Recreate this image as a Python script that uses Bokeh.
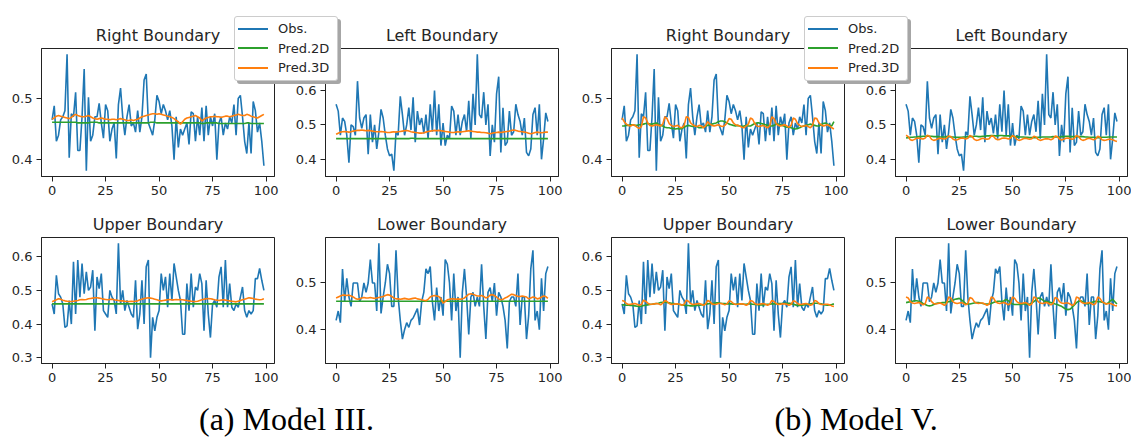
from bokeh.plotting import figure
from bokeh.models import Range1d, FixedTicker, PrintfTickFormatter, Div
from bokeh.layouts import row, column
from bokeh.embed import file_html
from bokeh.resources import INLINE
from bokeh.core.properties import value

# ---------------- data ----------------
x_idx = list(range(100))
x_ticks = [0, 25, 50, 75, 100]
series_labels = ["Obs.", "Pred.2D", "Pred.3D"]
panel_titles = ["Right Boundary", "Left Boundary", "Upper Boundary", "Lower Boundary"]
captions = ["(a) Model III.", "(b) Model V."]
yticks_right = [0.4, 0.5]
yticks_left = [0.4, 0.5, 0.6]
yticks_upper = [0.3, 0.4, 0.5, 0.6]
yticks_lower = [0.4, 0.5]

obs_right = [0.465, 0.488, 0.43, 0.44, 0.465, 0.47, 0.48, 0.572, 0.403, 0.475,
             0.47, 0.51, 0.415, 0.415, 0.47, 0.548, 0.382, 0.502, 0.43, 0.44,
             0.47, 0.47, 0.492, 0.46, 0.435, 0.49, 0.48, 0.43, 0.45, 0.46,
             0.402, 0.49, 0.517, 0.47, 0.44, 0.47, 0.49, 0.455, 0.46, 0.445,
             0.48, 0.445, 0.47, 0.53, 0.54, 0.46, 0.45, 0.44, 0.465, 0.505,
             0.495, 0.475, 0.49, 0.48, 0.465, 0.48, 0.455, 0.40, 0.47, 0.42,
             0.45, 0.44, 0.45, 0.46, 0.425, 0.478, 0.475, 0.43, 0.47, 0.44,
             0.485, 0.43, 0.488, 0.44, 0.47, 0.455, 0.475, 0.40, 0.46, 0.47,
             0.44, 0.46, 0.45, 0.47, 0.46, 0.49, 0.44, 0.50, 0.505, 0.47,
             0.43, 0.41, 0.46, 0.41, 0.495, 0.48, 0.445, 0.46, 0.43, 0.39]

obs_left = [0.56, 0.54, 0.47, 0.52, 0.51, 0.47, 0.39, 0.50, 0.495, 0.47,
            0.627, 0.52, 0.49, 0.52, 0.53, 0.415, 0.53, 0.45, 0.50, 0.43,
            0.48, 0.545, 0.52, 0.47, 0.43, 0.41, 0.415, 0.367, 0.48, 0.47,
            0.583, 0.53, 0.47, 0.50, 0.55, 0.485, 0.58, 0.45, 0.54, 0.50,
            0.52, 0.475, 0.53, 0.46, 0.56, 0.48, 0.60, 0.47, 0.56, 0.44,
            0.505, 0.44, 0.47, 0.46, 0.555, 0.54, 0.47, 0.53, 0.47, 0.51,
            0.53, 0.48, 0.57, 0.46, 0.59, 0.50, 0.705, 0.53, 0.52, 0.595,
            0.50, 0.56, 0.41, 0.50, 0.45, 0.59, 0.64, 0.42, 0.55, 0.44,
            0.45, 0.54, 0.47, 0.48, 0.56, 0.53, 0.51, 0.47, 0.52, 0.42,
            0.41, 0.43, 0.53, 0.55, 0.47, 0.56, 0.40, 0.46, 0.535, 0.51]

obs_upper = [0.46, 0.43, 0.545, 0.49, 0.48, 0.46, 0.39, 0.395, 0.47, 0.40,
             0.585, 0.43, 0.59, 0.48, 0.58, 0.49, 0.555, 0.50, 0.51, 0.56,
             0.38, 0.54, 0.505, 0.55, 0.44, 0.43, 0.42, 0.50, 0.48, 0.47,
             0.43, 0.64, 0.46, 0.50, 0.44, 0.47, 0.45, 0.43, 0.42, 0.53,
             0.385, 0.43, 0.53, 0.40, 0.57, 0.59, 0.30, 0.42, 0.38, 0.42,
             0.44, 0.55, 0.50, 0.54, 0.45, 0.55, 0.47, 0.58, 0.54, 0.50,
             0.47, 0.37, 0.37, 0.52, 0.44, 0.55, 0.45, 0.51, 0.50, 0.55,
             0.52, 0.38, 0.53, 0.43, 0.36, 0.46, 0.47, 0.45, 0.54, 0.57,
             0.45, 0.59, 0.45, 0.52, 0.45, 0.44, 0.46, 0.45, 0.48, 0.51,
             0.44, 0.42, 0.44, 0.43, 0.44, 0.535, 0.535, 0.565, 0.53, 0.50]

obs_lower = [0.42, 0.44, 0.415, 0.53, 0.46, 0.51, 0.47, 0.45, 0.50, 0.50,
             0.50, 0.46, 0.47, 0.50, 0.48, 0.50, 0.55, 0.50, 0.50, 0.44,
             0.585, 0.435, 0.47, 0.50, 0.54, 0.52, 0.45, 0.45, 0.57, 0.47,
             0.42, 0.38, 0.40, 0.415, 0.405, 0.42, 0.425, 0.435, 0.445, 0.41,
             0.46, 0.48, 0.53, 0.52, 0.535, 0.46, 0.42, 0.49, 0.44, 0.47,
             0.43, 0.55, 0.54, 0.50, 0.42, 0.52, 0.44, 0.47, 0.34, 0.48,
             0.53, 0.47, 0.39, 0.47, 0.48, 0.45, 0.47, 0.45, 0.54, 0.45,
             0.38, 0.48, 0.49, 0.46, 0.50, 0.43, 0.48, 0.47, 0.45, 0.42,
             0.36, 0.46, 0.47, 0.47, 0.45, 0.52, 0.41, 0.47, 0.47, 0.38,
             0.43, 0.53, 0.57, 0.42, 0.44, 0.40, 0.51, 0.44, 0.52, 0.535]

# predictions (thousandths)
right_2d_m3 = [461, 461, 461, 461, 461, 461, 461, 461, 461, 461,
               461, 461, 460, 460, 460, 460, 460, 460, 461, 461,
               461, 461, 460, 460, 460, 460, 460, 460, 460, 460,
               460, 460, 460, 460, 460, 460, 460, 460, 460, 460,
               460, 460, 460, 460, 460, 460, 461, 461, 461, 460,
               460, 460, 460, 460, 460, 460, 460, 460, 460, 460,
               460, 460, 460, 460, 460, 460, 460, 460, 460, 460,
               459, 459, 460, 460, 460, 460, 460, 460, 459, 459,
               459, 459, 459, 459, 459, 459, 459, 459, 459, 459,
               459, 460, 460, 459, 459, 459, 459, 459, 459, 459]
right_3d_m3 = [466, 468, 471, 472, 471, 470, 469, 468, 467, 469,
               472, 474, 472, 471, 470, 470, 471, 472, 470, 468,
               467, 466, 467, 468, 467, 466, 466, 465, 466, 466,
               465, 466, 467, 466, 465, 464, 464, 465, 464, 465,
               466, 468, 470, 471, 472, 473, 474, 475, 475, 474,
               475, 474, 473, 472, 471, 470, 469, 467, 464, 462,
               458, 462, 466, 468, 469, 470, 471, 472, 470, 468,
               463, 466, 468, 469, 470, 470, 471, 470, 470, 469,
               470, 471, 471, 470, 471, 472, 473, 474, 473, 472,
               472, 474, 473, 471, 470, 469, 468, 470, 472, 474]
left_2d_m3 = [460, 460, 460, 460, 460, 460, 460, 460, 460, 460,
              460, 460, 460, 460, 460, 460, 460, 460, 460, 460,
              460, 460, 460, 460, 460, 460, 460, 460, 460, 460,
              460, 460, 460, 460, 460, 461, 461, 460, 460, 460,
              460, 460, 460, 460, 460, 460, 460, 460, 460, 460,
              460, 460, 460, 460, 460, 460, 460, 460, 460, 460,
              460, 460, 460, 460, 460, 460, 460, 460, 460, 460,
              460, 460, 460, 460, 460, 460, 460, 460, 460, 460,
              460, 460, 460, 460, 460, 460, 460, 460, 460, 460,
              460, 460, 460, 460, 460, 460, 460, 460, 460, 460]
left_3d_m3 = [473, 476, 479, 480, 481, 480, 479, 480, 482, 483,
              484, 484, 485, 484, 483, 484, 483, 482, 481, 480,
              480, 481, 480, 479, 478, 478, 479, 480, 479, 480,
              481, 482, 483, 484, 482, 480, 479, 478, 477, 476,
              476, 477, 479, 481, 482, 483, 484, 483, 484, 483,
              482, 481, 480, 479, 478, 478, 479, 480, 479, 480,
              481, 482, 483, 482, 481, 480, 479, 479, 478, 478,
              477, 476, 474, 476, 477, 478, 479, 478, 479, 480,
              481, 482, 484, 485, 484, 482, 481, 480, 479, 478,
              476, 474, 476, 478, 479, 478, 477, 478, 479, 479]
upper_2d_m3 = [460, 460, 460, 460, 460, 460, 460, 460, 460, 460,
               460, 460, 460, 460, 460, 460, 460, 460, 460, 460,
               460, 460, 460, 460, 460, 460, 460, 460, 460, 460,
               460, 460, 460, 460, 460, 460, 460, 460, 460, 460,
               460, 460, 460, 460, 460, 460, 460, 460, 460, 460,
               460, 460, 460, 460, 460, 460, 460, 460, 460, 460,
               460, 460, 460, 460, 460, 460, 460, 460, 460, 460,
               460, 460, 460, 460, 460, 460, 460, 460, 460, 460,
               460, 460, 460, 460, 460, 460, 460, 460, 460, 460,
               460, 460, 460, 460, 460, 460, 460, 460, 460, 460]
upper_3d_m3 = [466, 469, 472, 475, 474, 471, 469, 468, 467, 467,
               468, 469, 470, 472, 473, 472, 473, 475, 476, 477,
               478, 478, 477, 476, 474, 473, 472, 473, 474, 472,
               471, 470, 469, 469, 468, 467, 467, 468, 467, 468,
               469, 472, 474, 476, 477, 478, 477, 476, 474, 472,
               470, 469, 470, 471, 472, 473, 472, 472, 473, 472,
               473, 472, 471, 470, 469, 468, 467, 467, 468, 470,
               472, 474, 475, 476, 475, 474, 472, 471, 470, 471,
               472, 471, 470, 469, 468, 467, 466, 468, 470, 472,
               474, 476, 478, 477, 476, 474, 473, 472, 473, 475]
lower_2d_m3 = [461, 461, 461, 461, 461, 461, 461, 461, 461, 461,
               461, 461, 461, 461, 461, 461, 461, 461, 461, 461,
               461, 461, 461, 461, 461, 461, 461, 461, 461, 461,
               461, 461, 461, 461, 461, 461, 461, 461, 461, 461,
               461, 461, 461, 461, 461, 461, 461, 461, 461, 461,
               461, 461, 461, 461, 461, 461, 461, 461, 461, 461,
               461, 461, 461, 461, 461, 461, 461, 461, 461, 461,
               461, 461, 461, 461, 461, 461, 461, 461, 461, 461,
               461, 461, 461, 461, 461, 461, 461, 461, 461, 461,
               461, 461, 461, 461, 461, 461, 461, 461, 461, 461]
lower_3d_m3 = [468, 470, 472, 474, 474, 473, 474, 472, 470, 467,
               465, 466, 468, 469, 468, 468, 469, 468, 467, 468,
               469, 470, 471, 473, 475, 474, 471, 468, 466, 466,
               465, 466, 467, 466, 465, 466, 467, 468, 466, 465,
               464, 463, 462, 465, 470, 472, 473, 472, 471, 466,
               457, 460, 464, 465, 466, 466, 465, 466, 465, 466,
               468, 472, 476, 477, 476, 474, 472, 472, 473, 471,
               468, 470, 474, 475, 473, 470, 466, 464, 465, 468,
               470, 473, 476, 475, 473, 471, 471, 472, 471, 470,
               466, 468, 470, 469, 466, 467, 470, 472, 471, 467]

right_2d_m5 = [455, 455, 456, 456, 457, 457, 456, 456, 457, 457,
               458, 459, 459, 458, 458, 459, 460, 458, 456, 455,
               453, 452, 452, 451, 451, 450, 451, 450, 451, 453,
               455, 456, 455, 454, 455, 454, 452, 452, 453, 455,
               456, 457, 458, 459, 460, 462, 463, 463, 462, 460,
               458, 457, 456, 455, 456, 455, 454, 455, 456, 455,
               455, 457, 459, 460, 460, 459, 458, 457, 456, 455,
               455, 456, 458, 458, 457, 456, 454, 453, 453, 452,
               451, 450, 451, 452, 454, 455, 456, 457, 458, 457,
               456, 455, 455, 457, 459, 460, 458, 456, 455, 462]
right_3d_m5 = [468, 462, 458, 456, 455, 457, 456, 453, 451, 454,
               470, 468, 460, 456, 455, 456, 457, 456, 455, 458,
               470, 467, 459, 456, 454, 455, 456, 453, 452, 456,
               470, 469, 460, 457, 455, 454, 456, 455, 452, 455,
               462, 458, 456, 455, 456, 457, 455, 454, 456, 460,
               467, 466, 460, 457, 456, 455, 453, 452, 455, 458,
               468, 466, 459, 455, 454, 455, 456, 454, 452, 455,
               470, 467, 459, 456, 455, 456, 457, 455, 453, 456,
               468, 466, 459, 456, 454, 455, 456, 454, 452, 456,
               468, 467, 460, 457, 455, 456, 457, 455, 452, 450]
left_2d_m5 = [462, 463, 464, 464, 465, 465, 466, 466, 467, 467,
              468, 467, 467, 466, 466, 466, 465, 465, 465, 466,
              466, 465, 465, 464, 464, 464, 464, 465, 465, 466,
              466, 466, 467, 467, 466, 466, 467, 467, 468, 468,
              469, 469, 468, 468, 469, 469, 468, 468, 468, 467,
              467, 466, 466, 465, 465, 465, 464, 464, 463, 463,
              463, 463, 464, 464, 465, 465, 465, 465, 465, 466,
              465, 465, 465, 466, 466, 467, 467, 466, 466, 466,
              466, 466, 466, 466, 465, 465, 464, 464, 464, 463,
              463, 463, 464, 464, 464, 465, 465, 465, 465, 465]
left_3d_m5 = [470, 466, 457, 455, 458, 461, 462, 460, 459, 462,
              470, 467, 458, 455, 457, 460, 461, 460, 459, 461,
              468, 466, 459, 456, 457, 460, 462, 461, 459, 461,
              469, 466, 458, 455, 456, 459, 461, 460, 458, 460,
              468, 467, 460, 457, 458, 461, 462, 461, 459, 461,
              469, 466, 458, 455, 457, 460, 461, 460, 458, 460,
              467, 465, 458, 455, 457, 459, 460, 459, 457, 460,
              468, 466, 459, 456, 458, 461, 462, 460, 458, 461,
              469, 466, 458, 455, 457, 460, 461, 459, 457, 459,
              467, 464, 457, 455, 456, 458, 459, 457, 454, 452]
upper_2d_m5 = [457, 457, 456, 456, 455, 455, 454, 453, 452, 453,
               455, 456, 457, 458, 459, 460, 461, 462, 464, 465,
               465, 464, 463, 462, 461, 460, 459, 458, 457, 456,
               455, 455, 454, 454, 455, 455, 456, 457, 458, 459,
               460, 461, 461, 462, 463, 463, 462, 461, 461, 460,
               460, 460, 459, 459, 460, 460, 460, 459, 459, 460,
               460, 459, 458, 458, 457, 457, 457, 458, 459, 459,
               460, 460, 460, 461, 461, 461, 462, 462, 462, 461,
               459, 457, 455, 455, 456, 457, 458, 459, 460, 461,
               462, 462, 461, 460, 458, 457, 456, 457, 458, 460]
upper_3d_m5 = [470, 468, 461, 458, 459, 460, 461, 459, 456, 458,
               471, 468, 462, 459, 459, 460, 461, 460, 457, 462,
               470, 467, 461, 458, 459, 460, 460, 459, 456, 459,
               471, 468, 461, 458, 459, 460, 461, 459, 456, 459,
               470, 467, 460, 458, 459, 461, 461, 460, 457, 460,
               469, 467, 461, 458, 459, 460, 460, 459, 456, 459,
               470, 468, 461, 458, 459, 460, 461, 459, 456, 459,
               470, 467, 461, 458, 459, 460, 460, 459, 456, 459,
               469, 467, 461, 458, 459, 460, 461, 459, 456, 458,
               470, 468, 461, 458, 458, 459, 459, 457, 454, 452]
lower_2d_m5 = [458, 459, 460, 461, 462, 462, 461, 459, 456, 454,
               452, 451, 452, 454, 456, 457, 457, 458, 458, 459,
               460, 461, 463, 465, 466, 467, 464, 460, 456, 455,
               455, 456, 457, 458, 458, 457, 456, 455, 455, 455,
               456, 458, 460, 461, 461, 460, 462, 465, 462, 458,
               455, 454, 454, 454, 455, 455, 455, 454, 455, 457,
               460, 464, 468, 467, 464, 461, 460, 459, 458, 457,
               455, 454, 452, 450, 447, 444, 443, 444, 448, 453,
               458, 461, 462, 460, 457, 455, 456, 458, 460, 461,
               460, 460, 459, 457, 455, 458, 462, 465, 460, 455]
lower_3d_m5 = [470, 468, 460, 457, 456, 457, 458, 456, 453, 456,
               470, 467, 460, 456, 455, 456, 457, 455, 452, 456,
               470, 468, 460, 457, 456, 457, 458, 456, 453, 456,
               469, 467, 460, 457, 456, 457, 457, 455, 452, 455,
               470, 468, 460, 457, 456, 457, 458, 456, 453, 456,
               470, 467, 460, 457, 456, 457, 458, 456, 452, 455,
               470, 468, 460, 457, 456, 457, 458, 456, 453, 456,
               469, 467, 460, 457, 456, 457, 457, 455, 452, 455,
               470, 468, 460, 457, 456, 457, 458, 456, 453, 456,
               470, 467, 460, 457, 455, 456, 456, 454, 452, 451]

# ---------------- styling ----------------
C_OBS, C_2D, C_3D = "#1f77b4", "#2ca02c", "#ff7f0e"
COLORS = [C_OBS, C_2D, C_3D]
FONT = "DejaVu Sans"
TXT = "#262626"


def k(v):
    return [t / 1000.0 for t in v]


def panel(title, obs, p2d, p3d, yticks, width, height, bl, br, bt, bb, margin_left=0):
    allv = obs + p2d + p3d
    lo, hi = min(allv), max(allv)
    pad = (hi - lo) * 0.05
    p = figure(width=width, height=height,
               x_range=Range1d(-4.95, 103.95), y_range=Range1d(lo - pad, hi + pad),
               output_backend="svg", toolbar_location=None,
               min_border_left=bl, min_border_right=br,
               min_border_top=bt, min_border_bottom=bb,
               margin=(0, 0, 0, margin_left))
    p.border_fill_color = None
    p.background_fill_color = "white"
    p.outline_line_color = "#222222"
    p.outline_line_width = 1
    p.grid.visible = False
    p.title.text = title
    p.title.text_font = FONT
    p.title.text_font_size = "16px"
    p.title.text_font_style = "normal"
    p.title.text_color = TXT
    p.title.align = "center"
    p.title.standoff = 7
    p.xaxis.ticker = FixedTicker(ticks=x_ticks)
    p.yaxis.ticker = FixedTicker(ticks=yticks)
    p.xaxis.formatter = PrintfTickFormatter(format="%d")
    p.yaxis.formatter = PrintfTickFormatter(format="%.1f")
    for ax in (p.xaxis, p.yaxis):
        ax.axis_line_color = "#222222"
        ax.major_tick_line_color = "#222222"
        ax.major_tick_out = 5
        ax.major_tick_in = 0
        ax.minor_tick_out = 0
        ax.minor_tick_in = 0
        ax.major_label_text_font = FONT
        ax.major_label_text_font_size = "13px"
        ax.major_label_text_color = TXT
        ax.major_label_standoff = 4
    for ys, c in zip((obs, p2d, p3d), COLORS):
        p.line(x_idx, ys, line_color=c, line_width=1.6)
    return p


def legend_div(margin_left):
    rows_html = "".join(
        '<div style="display:flex;align-items:center;height:19.5px;">'
        '<span style="display:inline-block;width:30px;height:0;border-top:2px solid %s;'
        'margin-right:10px;"></span><span>%s</span></div>' % (c, lab)
        for c, lab in zip(COLORS, series_labels))
    html = ('<div style="box-sizing:border-box;width:104px;height:65px;border:1px solid #cccccc;'
            'border-radius:3px;background:#ffffff;box-shadow:3px 3px 0 #a6a6a6;'
            'padding:2px 0 0 3px;font-family:\'DejaVu Sans\';font-size:13px;color:%s;'
            'line-height:1;">%s</div>' % (TXT, rows_html))
    return Div(text=html, width=108, height=70, margin=(16, 0, 0, margin_left))


H1, H2, H3 = 207, 185, 47

top = [
    panel(panel_titles[0], obs_right, k(right_2d_m3), k(right_3d_m3), yticks_right,
          width=290, height=H1, bl=41, br=16, bt=48, bb=31),
    panel(panel_titles[1], obs_left, k(left_2d_m3), k(left_3d_m3), yticks_left,
          width=285, height=H1, bl=35, br=17, bt=48, bb=31),
    legend_div(-341),
    panel(panel_titles[0], obs_right, k(right_2d_m5), k(right_3d_m5), yticks_right,
          width=283, height=H1, bl=36, br=14, bt=48, bb=31, margin_left=233),
    panel(panel_titles[1], obs_left, k(left_2d_m5), k(left_3d_m5), yticks_left,
          width=273, height=H1, bl=37, br=4, bt=48, bb=31),
    legend_div(-327),
]
bottom = [
    panel(panel_titles[2], obs_upper, k(upper_2d_m3), k(upper_3d_m3), yticks_upper,
          width=290, height=H2, bl=41, br=16, bt=30, bb=29),
    panel(panel_titles[3], obs_lower, k(lower_2d_m3), k(lower_3d_m3), yticks_lower,
          width=285, height=H2, bl=35, br=17, bt=30, bb=29),
    panel(panel_titles[2], obs_upper, k(upper_2d_m5), k(upper_3d_m5), yticks_upper,
          width=283, height=H2, bl=36, br=14, bt=30, bb=29),
    panel(panel_titles[3], obs_lower, k(lower_2d_m5), k(lower_3d_m5), yticks_lower,
          width=273, height=H2, bl=37, br=4, bt=30, bb=29),
]

cap = figure(width=1131, height=H3, x_range=Range1d(0, 1131), y_range=Range1d(0, H3),
             output_backend="svg", toolbar_location=None, min_border=0,
             x_axis_type=None, y_axis_type=None, title=None)
cap.grid.visible = False
cap.outline_line_color = None
cap.border_fill_color = None
cap.text(x=[286, 856], y=[21, 21], text=captions, text_font=value("Liberation Serif"),
         text_font_size="32px", text_align="center", text_baseline="alphabetic",
         text_color="black")

layout = column(row(*top), row(*bottom), cap)
open("out.html", "w").write(file_html(layout, INLINE))
